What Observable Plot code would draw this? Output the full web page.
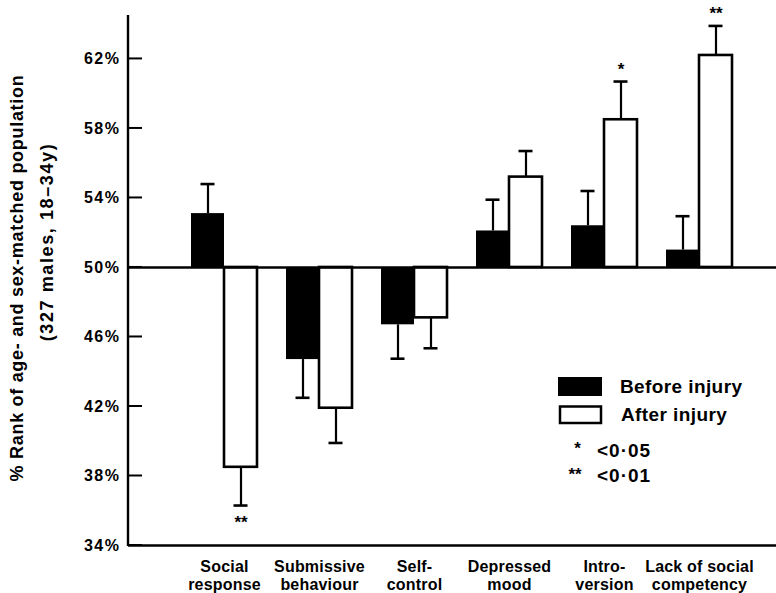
<!DOCTYPE html>
<html>
<head>
<meta charset="utf-8">
<script src="https://cdn.jsdelivr.net/npm/d3@7"></script>
<script src="https://cdn.jsdelivr.net/npm/@observablehq/plot@0.6"></script>
<style>
  body { margin: 0; background: #fff; }
  #chart svg { font-family: "Liberation Sans", Arial, Helvetica, sans-serif; font-weight: bold; }
  #chart g[aria-label="y-axis tick label"] text { letter-spacing: 1.5px; }
  #chart g[aria-label="x-axis tick label"] text { letter-spacing: 0.2px; }
</style>
</head>
<body>
<div id="chart"></div>
<script>
// ---- data ----
const categories = ["Social\nresponse", "Submissive\nbehaviour", "Self-\ncontrol", "Depressed\nmood", "Intro-\nversion", "Lack of social\ncompetency"];
const before    = [53.1, 44.7, 46.7, 52.1, 52.4, 51.0];
const beforeErr = [1.7, 2.2, 1.95, 1.8, 2.0, 1.95];
const after     = [38.5, 41.9, 47.1, 55.2, 58.5, 62.2];
const afterErr  = [2.2, 2.0, 1.75, 1.5, 2.2, 1.7];
const significance = ["**", "", "", "", "*", "**"];
const yTicks = [34, 38, 42, 46, 50, 54, 58, 62];
const baseline = 50;
const seriesNames = ["Before injury", "After injury"];
const legendNotes = ["<0·05", "<0·01"];
const legendStars = ["*", "**"];

const rows = categories.flatMap((c, i) => [
  {category: c, series: seriesNames[0], value: before[i], err: beforeErr[i], sig: ""},
  {category: c, series: seriesNames[1], value: after[i], err: afterErr[i], sig: significance[i]}
]);
rows.forEach(d => { d.dir = d.value >= baseline ? 1 : -1; d.cap = d.value + d.dir * d.err; });
const B = rows.filter(d => d.series === seriesNames[0]);
const A = rows.filter(d => d.series === seriesNames[1]);

const off = 16.5;   // half a bar width
const font = '"Liberation Sans", Arial, Helvetica, sans-serif';

const plot = Plot.plot({
  width: 776,
  height: 593,
  marginLeft: 128,
  marginRight: 0,
  marginTop: 15,
  marginBottom: 48,
  style: {background: "#fff", color: "#000", fontFamily: font, fontWeight: "bold", overflow: "visible"},
  x: {domain: categories, paddingInner: 0.3075, paddingOuter: 0.548, align: 0.584, label: null},
  y: {domain: [34, 64.5], label: null},
  marks: [
    Plot.barY(B, {x: "category", y1: baseline, y2: "value", fill: "#000", insetRight: 33}),
    Plot.barY(A, {x: "category", y1: baseline, y2: "value", fill: "#fff", stroke: "#000", strokeWidth: 2.6, insetLeft: 33}),
    Plot.ruleX(B, {x: "category", y1: "value", y2: "cap", dx: -off, strokeWidth: 2.2}),
    Plot.ruleX(A, {x: "category", y1: "value", y2: "cap", dx: off, strokeWidth: 2.2}),
    Plot.tickY(B, {x: "category", y: "cap", dx: -off, insetLeft: 26, insetRight: 26, strokeWidth: 2.6}),
    Plot.tickY(A, {x: "category", y: "cap", dx: off, insetLeft: 26, insetRight: 26, strokeWidth: 2.6}),
    Plot.ruleY([baseline], {strokeWidth: 2.4}),
    Plot.ruleY([34], {strokeWidth: 2.4}),
    Plot.axisY({ticks: yTicks, tickSize: 0, tickPadding: 8, tickFormat: d => d + "%", fontSize: 16, fontWeight: "bold"}),
    Plot.axisX({tickSize: 0, tickPadding: 13, fontSize: 16, lineHeight: 1.15, fontWeight: "bold"}),
    Plot.text(A.filter(d => d.sig && d.dir > 0), {x: "category", y: "cap", text: "sig", dx: off, dy: -7, lineAnchor: "bottom", fontSize: 17, fontWeight: "bold"}),
    Plot.text(A.filter(d => d.sig && d.dir < 0), {x: "category", y: "cap", text: "sig", dx: off, dy: 22, lineAnchor: "bottom", fontSize: 17, fontWeight: "bold"})
  ]
});

const svg = d3.select(plot);
const ys = plot.scale("y");
const yDom = ys.domain;
const x0 = 128;

// vertical y axis line and inward ticks
svg.append("line")
  .attr("x1", x0).attr("x2", x0)
  .attr("y1", ys.apply(yDom[1])).attr("y2", ys.apply(yDom[0]) + 1)
  .attr("stroke", "#000").attr("stroke-width", 2.4);
svg.append("g").selectAll("line").data(yTicks).join("line")
  .attr("x1", x0).attr("x2", x0 + 14)
  .attr("y1", d => ys.apply(d)).attr("y2", d => ys.apply(d))
  .attr("stroke", "#000").attr("stroke-width", 2);

// y axis title (two lines, rotated)
const title = [
  {text: "% Rank of age- and sex-matched population", x: 23, y: 278, ls: 0.7},
  {text: "(327 males, 18–34y)", x: 53, y: 242, ls: 1.6}
];
svg.append("g").selectAll("text").data(title).join("text")
  .attr("transform", d => `translate(${d.x},${d.y}) rotate(-90)`)
  .attr("text-anchor", "middle")
  .attr("font-size", 18).attr("font-weight", "bold").attr("font-family", font)
  .attr("letter-spacing", d => d.ls + "px")
  .attr("fill", "#000")
  .text(d => d.text);

// legend
const lg = svg.append("g").attr("font-family", font).attr("font-weight", "bold").attr("fill", "#000").attr("text-anchor", "start");
lg.append("rect").attr("x", 558).attr("y", 377).attr("width", 44).attr("height", 19).attr("fill", "#000");
lg.append("rect").attr("x", 560).attr("y", 406.5).attr("width", 41).attr("height", 16.5)
  .attr("fill", "#fff").attr("stroke", "#000").attr("stroke-width", 2.5);
lg.append("text").attr("x", 620).attr("y", 393).attr("font-size", 19).attr("letter-spacing", "0.4px").text(seriesNames[0]);
lg.append("text").attr("x", 621).attr("y", 420.5).attr("font-size", 19).attr("letter-spacing", "0.4px").text(seriesNames[1]);
lg.append("text").attr("x", 577.5).attr("y", 454).attr("font-size", 17).attr("text-anchor", "middle").text(legendStars[0]);
lg.append("text").attr("x", 597).attr("y", 456.5).attr("font-size", 19).attr("letter-spacing", "1px").text(legendNotes[0]);
lg.append("text").attr("x", 575).attr("y", 480).attr("font-size", 17).attr("text-anchor", "middle").text(legendStars[1]);
lg.append("text").attr("x", 597).attr("y", 481.5).attr("font-size", 19).attr("letter-spacing", "1px").text(legendNotes[1]);

document.getElementById("chart").append(plot);
</script>
</body>
</html>
